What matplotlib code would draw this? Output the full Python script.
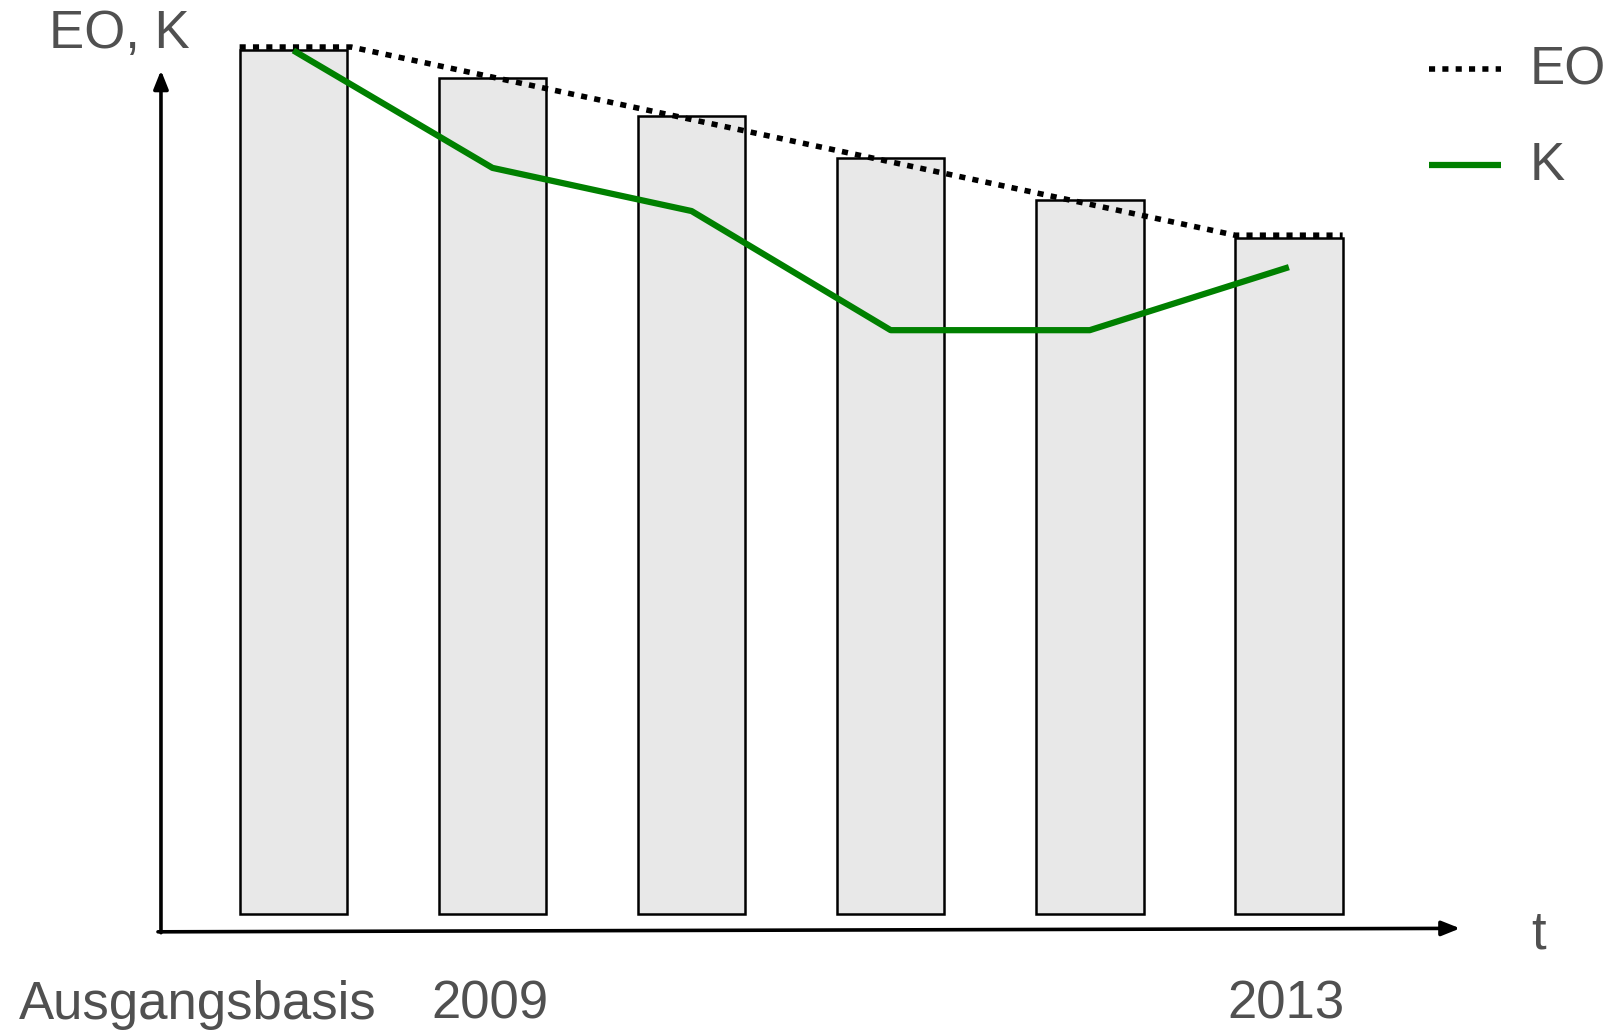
import numpy as np
import matplotlib.pyplot as plt

plt.rcParams['font.family'] = ['Liberation Sans', 'DejaVu Sans']

# data (schematic, relative units: first bar = 100)
years = np.arange(6)
bar_values = [100, 96.8, 92.4, 87.6, 82.7, 78.3]
k_values = [100, 86.4, 81.4, 67.6, 67.6, 74.9]
eo_start, eo_end = 100.4, 78.6
year_labels = ['Ausgangsbasis', '2009', '2013']

bar_w = 0.54
text_col = '#505050'
green = '#008000'

fig = plt.figure(figsize=(16.17, 10.31), dpi=100)
ax = fig.add_axes([0, 0, 1, 1])
ax.set_xlim(-1.4735, 6.648)
ax.set_ylim(-13.59, 105.85)
ax.axis('off')

# bars
ax.bar(years, bar_values, width=bar_w, color='#e8e8e8', edgecolor='black',
       linewidth=1.8, zorder=2)

# EO dotted line: flat over first and last bar, straight in between
eo_x = [years[0] - bar_w / 2, years[0] + bar_w / 2 + 0.02,
        years[-1] - bar_w / 2, years[-1] + bar_w / 2]
eo_y = [eo_start, eo_start, eo_end, eo_end]
ax.plot(eo_x, eo_y, color='black', lw=4, linestyle=(0, (1.1, 1.3)),
        dash_capstyle='butt', zorder=3)

# K line
ax.plot(years, k_values, color=green, lw=4.5, solid_capstyle='butt', zorder=4)

# axes as arrows
arrow = dict(arrowstyle='-|>,head_length=0.55,head_width=0.22', color='black',
             lw=2.6, shrinkA=0, shrinkB=0, mutation_scale=20)
ax.annotate('', xy=(-0.665, 97.7), xytext=(-0.665, -2.2), arrowprops=arrow)
ax.annotate('', xy=(5.86, -1.7), xytext=(-0.68, -2.1), arrowprops=arrow)

# texts
fs = 38
fig.text(0.030, 0.953, 'EO, K', fontsize=fs, color=text_col, va='baseline')
fig.text(0.947, 0.0798, 't', fontsize=fs, color=text_col, va='baseline')
fig.text(0.0115, 0.012, year_labels[0], fontsize=fs, color=text_col, va='baseline')
fig.text(0.2666, 0.012, year_labels[1], fontsize=fs, color=text_col, va='baseline')
fig.text(0.759, 0.012, year_labels[2], fontsize=fs, color=text_col, va='baseline')

# legend drawn by hand
fig.add_artist(plt.Line2D([0.884, 0.928], [0.933, 0.933], color='black', lw=4,
                          linestyle=(0, (1.1, 1.3)), dash_capstyle='butt'))
fig.text(0.946, 0.918, 'EO', fontsize=fs, color=text_col, va='baseline')
fig.add_artist(plt.Line2D([0.884, 0.928], [0.840, 0.840], color=green, lw=4.5,
                          solid_capstyle='butt'))
fig.text(0.946, 0.825, 'K', fontsize=fs, color=text_col, va='baseline')

plt.savefig('out.png', dpi=100)
